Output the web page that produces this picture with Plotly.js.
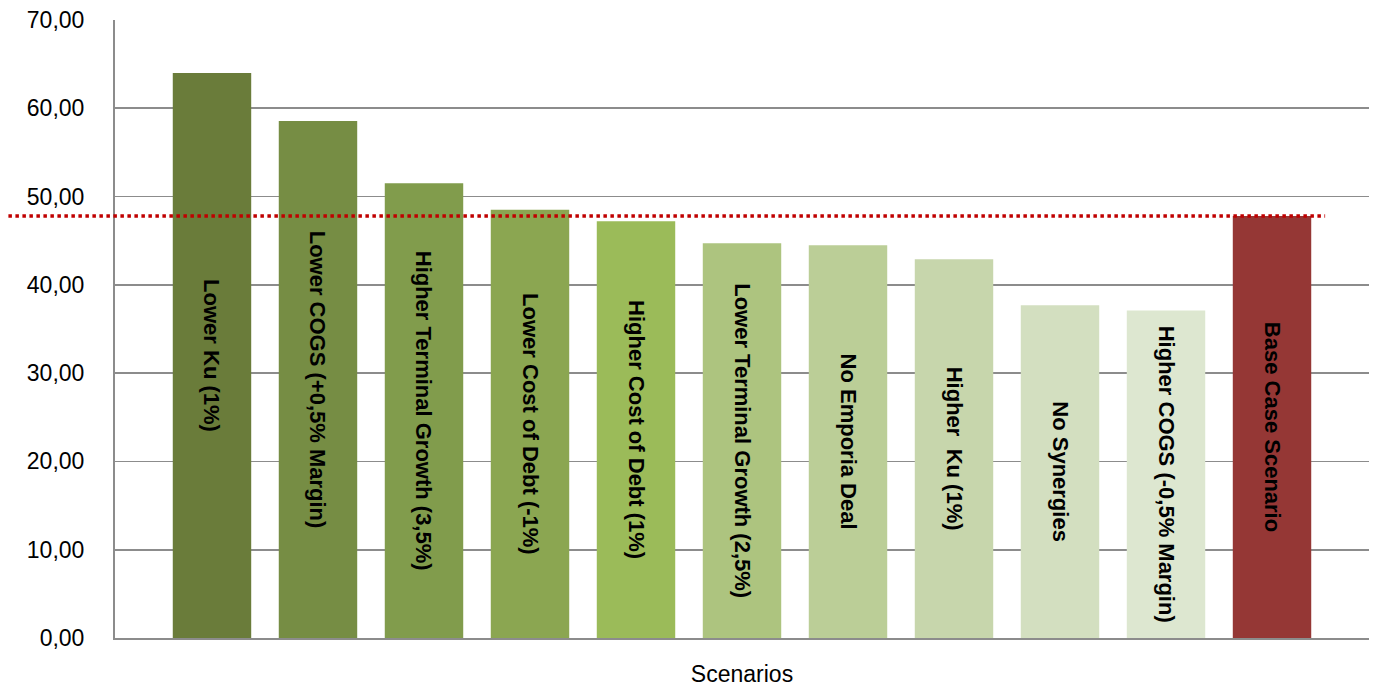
<!DOCTYPE html>
<html>
<head>
<meta charset="utf-8">
<script src="https://cdn.plot.ly/plotly-3.0.1.min.js"></script>
<style>
  html, body { margin: 0; padding: 0; background: #fff; }
  #chart { width: 1375px; height: 687px; }
</style>
</head>
<body>
<div id="chart"></div>
<script>
// Sensitivity scenarios and their resulting values
const scenarios = [
  "Lower Ku (1%)",
  "Lower COGS (+0,5% Margin)",
  "Higher Terminal Growth (3,5%)",
  "Lower Cost of Debt (-1%)",
  "Higher Cost of Debt (1%)",
  "Lower Terminal Growth (2,5%)",
  "No Emporia Deal",
  "Higher  Ku (1%)",
  "No Synergies",
  "Higher COGS (-0,5% Margin)",
  "Base Case Scenario"
];
const values = [64.0, 58.55, 51.5, 48.5, 47.2, 44.7, 44.5, 42.9, 37.7, 37.1, 47.8];
const barColors = [
  "#6A7C3A", "#768D44", "#819C4C", "#8BA651", "#9BBB59",
  "#ADC47F", "#BBCE97", "#C7D6AC", "#D3DFC0", "#DDE7D0", "#953735"
];
const baseCaseValue = values[values.length - 1];
const yTicks = [0, 10, 20, 30, 40, 50, 60, 70];

const idx = scenarios.map((_, i) => i);
const FONT = "Liberation Sans, Arial, sans-serif";

const trace = {
  type: "bar",
  x: idx,
  y: values,
  width: 0.74,
  marker: { color: barColors, line: { width: 0 } },
  text: scenarios,
  textposition: "inside",
  insidetextanchor: "middle",
  textangle: 90,
  constraintext: "none",
  textfont: { family: FONT, size: 22, color: "#000000", weight: "bold" },
  hoverinfo: "skip",
  cliponaxis: false
};

const layout = {
  width: 1375,
  height: 687,
  margin: { l: 115, r: 6, t: 20, b: 49 },
  paper_bgcolor: "#ffffff",
  plot_bgcolor: "#ffffff",
  showlegend: false,
  separators: ", ",
  xaxis: {
    range: [-0.915, 10.915],
    showticklabels: false,
    ticks: "",
    showgrid: false,
    zeroline: false,
    showline: true,
    linecolor: "#8C8C8C",
    linewidth: 2,
    fixedrange: true,
    title: {
      text: "Scenarios",
      font: { family: FONT, size: 23, color: "#000000" },
      standoff: 27
    }
  },
  yaxis: {
    range: [0, 70],
    tickvals: yTicks,
    tickformat: ".2f",
    ticks: "",
    ticklabelstandoff: 24,
    tickfont: { family: FONT, size: 23, color: "#000000" },
    showgrid: true,
    gridcolor: "#8C8C8C",
    gridwidth: 1.6,
    zeroline: false,
    showline: true,
    linecolor: "#8C8C8C",
    linewidth: 2,
    fixedrange: true
  },
  shapes: [{
    type: "line",
    xref: "paper",
    yref: "y",
    x0: -0.085,
    x1: 0.965,
    y0: baseCaseValue,
    y1: baseCaseValue,
    line: { color: "#C00000", width: 3.5, dash: "dot" },
    layer: "above"
  }]
};

Plotly.newPlot("chart", [trace], layout, { displayModeBar: false, staticPlot: true });
</script>
</body>
</html>
